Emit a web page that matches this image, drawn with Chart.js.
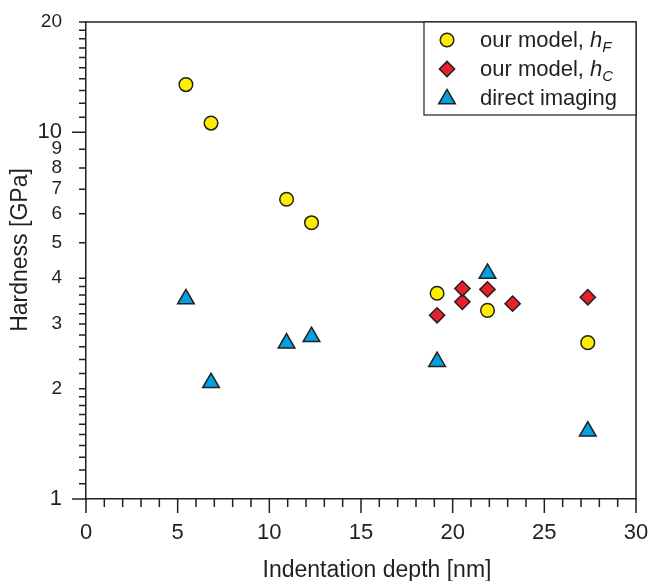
<!DOCTYPE html>
<html>
<head>
<meta charset="utf-8">
<script src="https://cdn.jsdelivr.net/npm/chart.js@4.4.0/dist/chart.umd.min.js"></script>
<style>
  html, body { margin: 0; padding: 0; background: #fff; }
  #wrap { width: 651px; height: 581px; }
</style>
</head>
<body>
<div id="wrap"><canvas id="hardness" width="651" height="581"></canvas></div>
<script>
// indentation depth [nm] and hardness [GPa]
const hfDepth = [5.45, 6.82, 10.94, 12.3, 19.15, 21.9, 27.37];
const hfHard = [13.5, 10.6, 6.57, 5.67, 3.64, 3.27, 2.67];

const hcDepth = [19.15, 20.53, 20.53, 21.9, 23.27, 27.37];
const hcHard = [3.17, 3.45, 3.75, 3.73, 3.41, 3.55];

const imgDepth = [5.45, 6.82, 10.94, 12.3, 19.15, 21.9, 27.37];
const imgHard = [3.51, 2.075, 2.66, 2.77, 2.37, 4.12, 1.53];

// axis ticks
const xTicks = [0, 1, 2, 3, 4, 5, 6, 7, 8, 9, 10, 11, 12, 13, 14, 15, 16, 17, 18, 19, 20,
                21, 22, 23, 24, 25, 26, 27, 28, 29, 30];
const xLabels = [0, 5, 10, 15, 20, 25, 30];
const yTicks = [1, 1.1, 1.2, 1.3, 1.4, 1.5, 1.6, 1.7, 1.8, 1.9, 2, 2.2, 2.4, 2.6, 2.8,
                3, 3.2, 3.4, 3.6, 3.8, 4, 5, 6, 7, 8, 9, 10, 11, 12, 13, 14, 15, 16, 17, 18, 19, 20];
const yLabels = [1, 2, 3, 4, 5, 6, 7, 8, 9, 10, 20];

const INK = '#231F20';
const FONT = '"Liberation Sans", Arial, Helvetica, sans-serif';

const toPoints = (xs, ys) => xs.map((x, i) => ({ x: x, y: ys[i] }));

const series = [
  { label: 'our model, h', sub: 'F', data: toPoints(hfDepth, hfHard), color: '#FFED00', style: 'circle', r: 6.8 },
  { label: 'our model, h', sub: 'C', data: toPoints(hcDepth, hcHard), color: '#E8202A', style: 'rectRot', r: 7.6 },
  { label: 'direct imaging', sub: '', data: toPoints(imgDepth, imgHard), color: '#00A0E3', style: 'triangle', r: 9.6 }
];

// tick marks, top/right frame, axis titles and the boxed legend
const framePlugin = {
  id: 'frame',
  afterDraw(chart) {
    const ctx = chart.ctx;
    const a = chart.chartArea;
    const xs = chart.scales.x, ys = chart.scales.y;
    ctx.save();
    ctx.strokeStyle = INK;
    ctx.lineWidth = 1.5;
    ctx.beginPath();
    xTicks.forEach(v => {
      const px = xs.getPixelForValue(v);
      const len = v % 5 === 0 ? 14 : 8;
      ctx.moveTo(px, a.bottom);
      ctx.lineTo(px, a.bottom + len);
    });
    yTicks.forEach(v => {
      const py = ys.getPixelForValue(v);
      const len = (v === 1 || v === 10) ? 14 : 7;
      ctx.moveTo(a.left - len, py);
      ctx.lineTo(a.left, py);
    });
    // top and right edges
    ctx.moveTo(a.left, a.top);
    ctx.lineTo(a.right, a.top);
    ctx.lineTo(a.right, a.bottom);
    ctx.stroke();

    // axis titles
    ctx.fillStyle = INK;
    ctx.font = '23px ' + FONT;
    ctx.textAlign = 'center';
    ctx.textBaseline = 'alphabetic';
    ctx.fillText('Indentation depth [nm]', 377, 577);
    ctx.save();
    ctx.translate(27, 250);
    ctx.rotate(-Math.PI / 2);
    ctx.fillText('Hardness [GPa]', 0, 0);
    ctx.restore();

    // legend
    const bx = 424, by = a.top, bw = a.right - 424, bh = 93;
    ctx.fillStyle = '#fff';
    ctx.fillRect(bx, by, bw, bh);
    ctx.lineWidth = 1.2;
    ctx.strokeRect(bx, by, bw, bh);
    const rows = [40, 69, 98];
    series.forEach((s, i) => {
      const y = rows[i];
      ctx.fillStyle = s.color;
      ctx.strokeStyle = INK;
      ctx.lineWidth = 1.5;
      Chart.helpers.drawPoint(ctx, { pointStyle: s.style, radius: s.r, rotation: 0, borderWidth: 1.5 }, 447, s.style === 'triangle' ? y + 1 : y);
      ctx.fillStyle = INK;
      ctx.textAlign = 'left';
      ctx.textBaseline = 'alphabetic';
      let tx = 480;
      const base = y + 7;
      if (s.sub) {
        const head = s.label.slice(0, -1);
        ctx.font = '22px ' + FONT;
        ctx.fillText(head, tx, base);
        tx += ctx.measureText(head).width;
        ctx.font = 'italic 22px ' + FONT;
        ctx.fillText('h', tx, base);
        tx += ctx.measureText('h').width;
        ctx.font = 'italic 15px ' + FONT;
        ctx.fillText(s.sub, tx, base + 5);
      } else {
        ctx.font = '22px ' + FONT;
        ctx.fillText(s.label, tx, base);
      }
    });
    ctx.restore();
  }
};

new Chart(document.getElementById('hardness'), {
  type: 'scatter',
  data: {
    datasets: series.map(s => ({
      label: s.label + s.sub,
      data: s.data,
      pointStyle: s.style,
      pointRadius: s.r,
      pointHoverRadius: s.r,
      pointBackgroundColor: s.color,
      pointBorderColor: INK,
      pointBorderWidth: 1.5,
      showLine: false
    }))
  },
  options: {
    responsive: false,
    animation: false,
    events: [],
    layout: { padding: { left: 0, top: 22, right: 15, bottom: 0 } },
    plugins: { legend: { display: false }, tooltip: { enabled: false } },
    scales: {
      x: {
        type: 'linear',
        min: 0,
        max: 30,
        afterBuildTicks: scale => { scale.ticks = xTicks.map(v => ({ value: v })); },
        afterFit: scale => {
          scale.height = 82;
          scale.paddingLeft = 0;
          scale.paddingRight = 0;
        },
        grid: { display: false, drawTicks: false },
        border: { display: true, color: INK, width: 1.5 },
        ticks: {
          autoSkip: false,
          maxRotation: 0,
          padding: 21,
          color: INK,
          font: { family: FONT, size: 22 },
          callback: v => xLabels.includes(v) ? String(v) : ''
        }
      },
      y: {
        type: 'logarithmic',
        min: 1,
        max: 20,
        afterBuildTicks: scale => { scale.ticks = yTicks.map(v => ({ value: v })); },
        afterFit: scale => {
          scale.width = 86;
          scale.paddingTop = 0;
          scale.paddingBottom = 0;
        },
        grid: { display: false, drawTicks: false },
        border: { display: true, color: INK, width: 1.5 },
        ticks: {
          autoSkip: false,
          padding: 24,
          color: INK,
          font: ctx => ({ family: FONT, size: (ctx.tick && (ctx.tick.value === 1 || ctx.tick.value === 10)) ? 22 : 19 }),
          callback: v => yLabels.includes(v) ? String(v) : ''
        }
      }
    }
  },
  plugins: [framePlugin]
});
</script>
</body>
</html>
